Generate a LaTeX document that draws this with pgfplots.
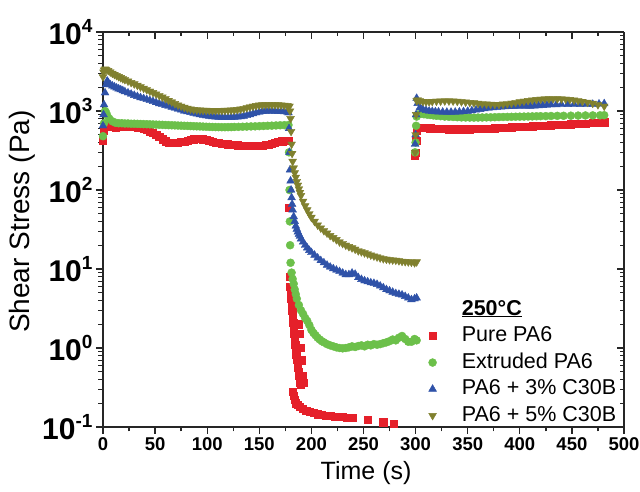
\documentclass[border=0pt]{standalone}
\usepackage{fontspec}
\setmainfont{Liberation Sans}
\usepackage{pgfplots}
\pgfplotsset{compat=1.18}
\definecolor{cred}{HTML}{E5202A}
\definecolor{cgreen}{HTML}{6CC04A}
\definecolor{cblue}{HTML}{2F52A8}
\definecolor{colive}{HTML}{80802E}
\newcommand{\pw}[1]{{\fontsize{30}{31}\selectfont\bfseries 10}\raisebox{12pt}{\fontsize{19}{19}\selectfont\bfseries #1}}
\pgfplotsset{lg/.style={legend image code/.code={\path (0cm,0cm) (1.3cm,0cm); \draw[##1] plot coordinates {(0.35cm,0cm)};}}}
\begin{document}
\begin{tikzpicture}
\path[use as bounding box] (-103pt,-64pt) rectangle (537pt,427pt);
\begin{axis}[
  scale only axis, width=521pt, height=395pt,
  at={(0pt,0pt)}, anchor=south west,
  xmin=0, xmax=500, ymin=0.1, ymax=10000, ymode=log,
  axis x line*=bottom, axis y line*=left,
  axis line style={line width=1.5pt, black!85},
  tick align=outside,
  major tick length=7pt, minor tick length=4.5pt,
  every tick/.style={line width=1.3pt, black!85},
  xtick={0,50,...,500}, minor x tick num=1,
  ytick={0.1,1,10,100,1000,10000},
  yticklabels={\pw{-1},\pw{0},\pw{1},\pw{2},\pw{3},\pw{4}},
  /pgf/number format/assume math mode=true,
  xticklabel style={font=\fontsize{18.5}{20}\selectfont\bfseries},
  xlabel={Time (s)}, ylabel={Shear Stress (Pa)},
  xlabel style={font=\fontsize{25}{27}\selectfont, at={(axis description cs:0.505,-0.117)}, anchor=center},
  ylabel style={font=\fontsize{28}{30}\selectfont, at={(axis description cs:-0.155,0.52)}, anchor=center},
  legend style={at={(axis description cs:0.607,0.332)}, anchor=north west, draw=none, fill=none,
    font=\fontsize{21.5}{23}\selectfont, row sep=3.5pt,
    nodes={text height=15pt, text depth=4pt, inner sep=2pt}},
  legend cell align=left,
]
\addlegendimage{empty legend}
\addlegendentry{\textbf{\underline{250°C}}}
% Pure PA6
\addplot[only marks, mark=square*, mark size=3.6pt, color=cred, lg] table {
x y
0 420
1 560
2 640
3 650
6 640
9 630
12 620
15 630
18 640
21 640
24 630
27 630
30 630
33 620
36 610
39 600
42 580
45 555
48 530
51 500
54 470
57 440
60 415
63 400
66 395
69 395
72 400
75 405
78 410
81 420
84 430
87 440
90 445
93 445
96 440
99 430
102 420
105 410
108 400
111 395
114 390
117 385
120 380
123 375
126 372
129 370
132 368
135 365
138 362
141 360
144 360
147 362
150 365
153 368
156 372
159 378
162 385
165 395
168 405
172 415
176 420
178 420
178.5 60
179 8
179.5 6
180 5
180.5 4.2
181 3.5
181.5 3.0
182 2.5
182.5 2.1
183 1.8
183.5 1.5
184 1.3
184.5 1.1
185 0.95
185.5 0.82
186 0.72
186.5 0.63
187 0.56
187.5 0.5
188 0.45
188.5 0.41
189 0.37
190 0.34
188 2.0
189 1.5
190 1.0
191 0.7
192 0.45
192.5 0.36
182 0.28
183 0.25
184 0.22
185 0.2
187 0.19
189 0.18
192 0.17
195 0.16
198 0.155
202 0.15
206 0.145
210 0.142
214 0.14
218 0.138
222 0.136
226 0.135
230 0.134
234 0.132
240 0.13
254 0.125
269 0.115
279 0.11
299.5 270
300 300
300.5 420
301 560
302 610
305 620
308 615
311 610
314 605
317 600
320 598
324 595
328 592
332 590
336 588
340 588
344 588
348 590
352 590
356 592
360 595
364 598
368 600
372 603
376 606
380 610
384 614
388 618
392 622
396 626
400 630
404 634
408 638
412 642
416 646
420 650
425 656
430 662
436 668
442 675
449 682
456 690
463 698
470 706
477 714
481 720
};
\addlegendentry{Pure PA6}
% Extruded PA6
\addplot[only marks, mark=*, mark size=4pt, color=cgreen, lg] table {
x y
0 480
1 700
2 1000
3 950
4 880
6 800
9 740
12 710
15 700
18 700
21 695
24 695
27 690
30 690
33 688
36 685
39 682
42 680
45 678
48 675
51 672
54 670
57 668
60 665
63 662
66 660
69 658
72 655
75 652
78 650
81 648
84 645
87 642
90 640
93 638
96 635
99 632
102 630
105 628
108 626
111 625
114 624
117 624
120 625
123 626
126 628
130 630
134 632
138 635
142 638
146 640
150 643
154 646
158 650
162 652
166 656
170 660
174 662
178 665
178.5 300
179 100
179.3 40
179.6 20
180 12
181 9
182 7.5
183 6.5
184 5.5
185 4.8
186 4.2
188 3.5
190 3.0
192 2.7
194 2.4
196 2.2
198 1.95
200 1.7
202 1.55
204 1.45
206 1.35
208 1.28
210 1.22
212 1.18
215 1.12
218 1.08
221 1.05
224 1.02
227 1.0
230 0.99
233 1.0
236 1.02
239 1.05
242 1.03
245 1.06
248 1.08
251 1.05
254 1.1
257 1.08
260 1.12
263 1.1
266 1.12
269 1.15
272 1.18
275 1.22
278 1.28
281 1.25
284 1.35
287 1.42
290 1.3
293 1.2
296 1.2
299 1.3
301 1.25
299.5 300
300 400
300.5 650
301 850
302 900
305 920
308 910
311 900
314 890
317 880
320 870
324 860
328 850
332 845
336 840
340 835
344 830
348 828
352 826
356 825
360 826
364 828
368 830
372 832
376 835
380 838
384 840
388 842
392 844
396 846
400 848
404 850
408 852
412 855
416 858
420 860
425 862
430 865
436 868
442 870
449 872
456 875
463 878
470 880
477 882
481 885
};
\addlegendentry{Extruded PA6}
% PA6 + 3% C30B
\addplot[only marks, mark=triangle*, mark size=4.5pt, color=cblue, lg] table {
x y
0 650
0.5 900
1 1200
2 1700
3 2150
4 2400
5 2300
7 2150
9 2080
11 2020
13 1960
15 1910
17 1860
19 1810
21 1760
24 1700
27 1640
30 1580
33 1530
36 1480
39 1440
42 1400
45 1360
48 1320
51 1280
54 1240
57 1210
60 1180
63 1150
66 1120
69 1090
72 1060
75 1030
78 1000
81 980
84 960
87 940
90 920
93 900
96 885
99 870
102 860
105 850
108 842
111 836
114 832
117 830
120 830
123 832
126 836
129 842
132 850
135 862
138 878
141 900
144 925
147 950
150 970
153 985
156 995
159 1000
162 1000
165 995
168 990
171 985
174 980
177 975
178 950
178.5 600
179 300
179.5 180
180 130
180.5 100
181 80
181.5 66
182 56
183 46
184 40
185 35
186 32
187 29.5
188 27.5
189 26
190 24
192 22
194 20
196 18.5
198 17.2
200 16.2
203 15
206 13.8
209 12.8
212 12
215 11.2
218 10.6
221 10.1
224 9.7
227 9.3
230 8.9
233 8.5
236 8.5
239 8.9
242 8.6
245 7.8
248 7.4
251 7.1
254 6.9
257 6.7
260 6.6
263 6.4
266 6.1
269 5.8
272 5.5
275 5.3
278 5.1
281 4.9
284 4.8
287 4.7
290 4.5
293 4.3
296 4.1
299 4.2
301 4.3
299.5 380
300 500
300.5 900
301 1450
302 1250
304 1100
307 1050
310 1020
313 1000
316 990
319 980
322 975
326 970
330 968
334 968
338 970
342 975
346 985
350 995
354 1010
358 1030
362 1050
366 1070
370 1090
374 1105
378 1115
382 1125
386 1135
390 1140
394 1145
398 1150
402 1150
406 1150
410 1155
414 1160
418 1170
422 1180
426 1190
430 1200
435 1205
440 1210
446 1215
452 1220
458 1215
464 1210
470 1220
476 1230
481 1240
};
\addlegendentry{PA6 + 3\% C30B}
% PA6 + 5% C30B
\addplot[only marks, mark=triangle*, mark options={rotate=180}, mark size=4.5pt, color=colive, lg] table {
x y
0 2700
0.5 3100
1 3300
2 3400
3 3350
5 3250
7 3120
9 3000
11 2900
13 2810
15 2720
17 2640
19 2560
21 2490
24 2390
27 2290
30 2200
33 2110
36 2020
39 1940
42 1860
45 1780
48 1710
51 1640
54 1570
57 1500
60 1430
63 1360
66 1300
69 1240
72 1190
75 1150
78 1110
81 1080
84 1060
87 1040
90 1030
93 1025
96 1020
99 1018
102 1015
105 1015
108 1015
111 1015
114 1015
117 1018
120 1020
123 1025
126 1030
129 1040
132 1055
135 1075
138 1100
141 1125
144 1150
147 1170
150 1185
153 1195
156 1200
159 1200
162 1200
165 1198
168 1195
171 1190
174 1180
177 1170
179 1150
179.5 1000
180 800
180.5 550
181 380
181.5 290
182 230
183 190
184 165
185 145
186 128
187 115
188 103
189 93
190 85
192 72
194 63
196 56
198 50
200 45
203 40
206 36
209 33
212 30.5
215 28.5
218 26.5
221 25
224 23.5
227 22
230 21
233 20
236 19.2
239 18.5
242 17.8
245 17
248 16.5
251 16
254 15.5
257 15
260 14.6
263 14.2
266 13.8
269 13.5
272 13.3
275 13.1
278 13
281 12.9
284 12.7
287 12.5
290 12.4
293 12.3
296 12.2
299 12
301 12.3
299.5 300
300 500
300.5 900
301 1350
302 1380
304 1350
307 1320
310 1310
313 1310
316 1320
320 1330
324 1335
328 1340
332 1340
336 1335
340 1325
344 1310
348 1295
352 1280
356 1265
360 1250
364 1235
368 1225
372 1215
376 1210
380 1210
384 1220
388 1235
392 1255
396 1280
400 1305
404 1330
408 1355
412 1375
416 1395
420 1410
424 1420
428 1425
432 1428
436 1425
440 1420
444 1410
448 1395
452 1375
456 1350
460 1320
465 1290
470 1250
475 1200
481 1150
};
\addlegendentry{PA6 + 5\% C30B}
\end{axis}
\begin{axis}[
  scale only axis, width=521pt, height=395pt,
  at={(0pt,0pt)}, anchor=south west,
  xmin=0, xmax=500, ymin=0.1, ymax=10000, ymode=log,
  axis x line*=top, axis y line*=right,
  axis line style={line width=1.5pt, black!85},
  tick align=inside,
  major tick length=7pt, minor tick length=4.5pt,
  every tick/.style={line width=1.3pt, black!85},
  xtick={0,50,...,500}, minor x tick num=1,
  ytick={0.1,1,10,100,1000,10000},
  xticklabels={}, yticklabels={},
]
\end{axis}
\end{tikzpicture}
\end{document}
